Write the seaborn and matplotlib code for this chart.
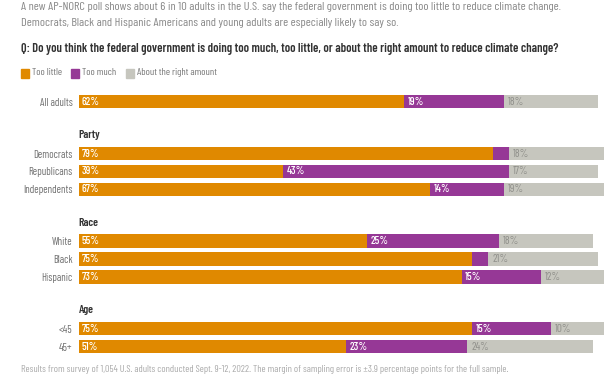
import numpy as np
import pandas as pd
import seaborn as sns
import matplotlib.pyplot as plt

groups = ["All adults", "Democrats", "Republicans", "Independents",
          "White", "Black", "Hispanic", "<45", "45+"]
sections = ["", "Party", "Party", "Party", "Race", "Race", "Race", "Age", "Age"]
too_little = [62, 79, 39, 67, 55, 75, 73, 75, 51]
too_much = [19, 3, 43, 14, 25, 3, 15, 15, 23]
about_right = [18, 18, 17, 19, 18, 21, 12, 10, 24]

legend_labels = ["Too little", "Too much", "About the right amount"]

ORANGE = "#E08900"
PURPLE = "#963896"
GRAY = "#C6C6BE"

# row positions: a gap of ~2.9 rows before each new section
pos = []
y = 0.0
for i, sec in enumerate(sections):
    if i > 0 and sec != sections[i - 1]:
        y += 2.9
    elif i > 0:
        y += 1.0
    pos.append(round(y, 2))

df = pd.DataFrame({
    "group": groups,
    "section": sections,
    "pos": pos,
    "too_little": too_little,
    "too_much": too_much,
    "about_right": about_right,
})
df["c1"] = df["too_little"]
df["c2"] = df["too_little"] + df["too_much"]
df["c3"] = df["c2"] + df["about_right"]

sns.set_style("white")
plt.rcParams["font.family"] = ["Barlow Condensed", "DejaVu Sans"]

W, H = 612, 374
fig = plt.figure(figsize=(W / 100, H / 100), dpi=100)
ax = fig.add_axes([78.7 / W, 1 - 355.6 / H, 525 / W, 262.9 / H])

# stacked bars by overlaying cumulative totals
for col, color in [("c3", GRAY), ("c2", PURPLE), ("c1", ORANGE)]:
    sns.barplot(data=df, x=col, y="pos", orient="h", native_scale=True,
                color=color, width=0.75, errorbar=None, linewidth=0,
                saturation=1, ax=ax)

ax.set_xlim(0, 100)
ax.set_ylim(14.2, -0.5)
ax.set_xlabel("")
ax.set_ylabel("")
ax.set_xticks([])
ax.set_yticks(df["pos"])
ax.set_yticklabels(df["group"], fontsize=7.7, color="#707070")
ax.tick_params(axis="y", length=0, pad=4.5)
sns.despine(ax=ax, left=True, bottom=True)

# value labels
for _, r in df.iterrows():
    ax.text(0.6, r["pos"], f"{r['too_little']}%", color="white", fontsize=8,
            va="center", ha="left", fontweight="medium")
    if r["too_much"] >= 5:
        ax.text(r["c1"] + 0.6, r["pos"], f"{r['too_much']}%", color="white",
                fontsize=8, va="center", ha="left", fontweight="medium")
    ax.text(r["c2"] + 0.8, r["pos"], f"{r['about_right']}%", color="#8f8f8a",
            fontsize=8, va="center", ha="left")

# section headers
for sec in ["Party", "Race", "Age"]:
    first = df.loc[df["section"] == sec, "pos"].iloc[0]
    ax.text(0, first - 1.03, sec, fontsize=8.3, fontweight="semibold",
            color="#333333", va="center", ha="left")

x0 = 20.7 / W
fig.text(x0, 1 - 7.5 / H,
         "A new AP-NORC poll shows about 6 in 10 adults in the U.S. say the federal "
         "government is doing too little to reduce climate change.",
         fontsize=8.9, color="#888888", va="center", ha="left")
fig.text(x0, 1 - 23.5 / H,
         "Democrats, Black and Hispanic Americans and young adults are especially "
         "likely to say so.",
         fontsize=8.9, color="#888888", va="center", ha="left")
fig.text(x0, 1 - 49 / H,
         "Q: Do you think the federal government is doing too much, too little, "
         "or about the right amount to reduce climate change?",
         fontsize=9.0, color="#333333", fontweight="semibold", va="center", ha="left")

# legend
lx = 20.7
for lab, color in zip(legend_labels, [ORANGE, PURPLE, GRAY]):
    fig.patches.append(plt.Rectangle((lx / W, 1 - 77.7 / H), 8 / W, 8.7 / H,
                                     transform=fig.transFigure, color=color))
    t = fig.text((lx + 11) / W, 1 - 72.7 / H, lab, fontsize=7.4,
                 color="#777777", va="center", ha="left")
    fig.canvas.draw()
    bb = t.get_window_extent()
    lx = bb.x1 + 9.5

fig.text(x0, 1 - 369 / H,
         "Results from survey of 1,054 U.S. adults conducted Sept. 9-12, 2022. "
         "The margin of sampling error is \u00b13.9 percentage points for the full sample.",
         fontsize=7.3, color="#aaaaaa", va="center", ha="left")

fig.savefig("out.png", dpi=100)
